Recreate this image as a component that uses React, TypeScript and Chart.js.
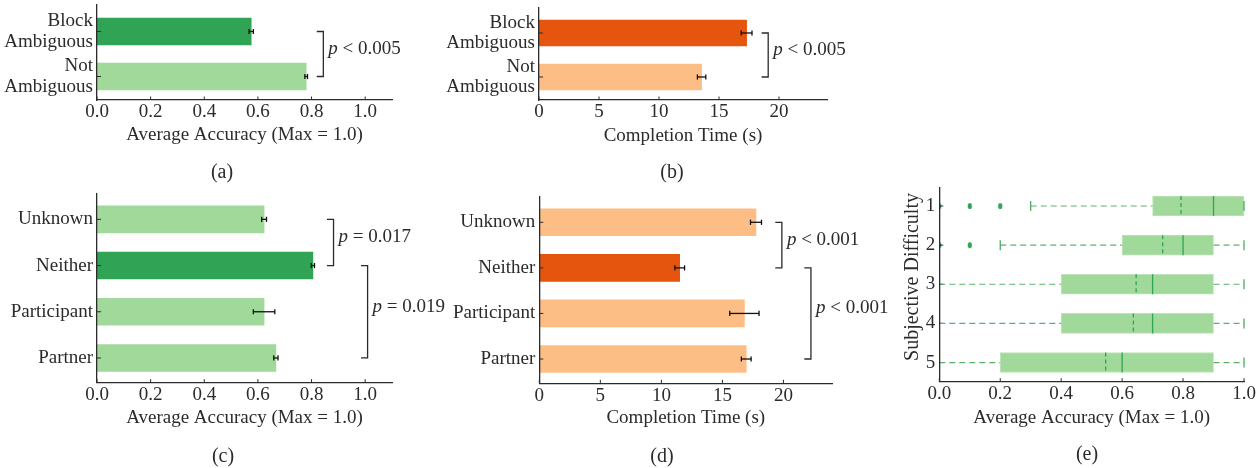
import React, { useEffect, useRef } from 'react';
import { Chart, registerables } from 'chart.js';

Chart.register(...registerables);

const W = 1259;
const H = 468;
const FONT_FAMILY = '"Liberation Serif", "Times New Roman", Times, serif';
const FONT_SIZE = 19;
const TEXT_COLOR = '#2b2b2b';
const AXIS_COLOR = '#2b2b2b';
const DARK_GREEN = '#31a354';
const LIGHT_GREEN = '#a1d99b';
const DARK_ORANGE = '#e6550d';
const LIGHT_ORANGE = '#fdbe85';
const WHISKER_GREEN = '#5cb46c';

// ---------------- data ----------------
const ambiguityLabels: string[][] = [['Block', 'Ambiguous'], ['Not', 'Ambiguous']];
const ambiguityHighlight = 0;
const ambiguityAccuracy = [0.575, 0.78];
const ambiguityAccuracyErr = [0.008, 0.005];
const ambiguityTime = [17.3, 13.55];
const ambiguityTimeErr = [0.45, 0.35];

const attributionLabels = ['Unknown', 'Neither', 'Participant', 'Partner'];
const attributionHighlight = 1;
const attributionAccuracy = [0.623, 0.805, 0.623, 0.667];
const attributionAccuracyErr = [0.009, 0.006, 0.04, 0.008];
const attributionTime = [17.75, 11.5, 16.8, 16.95];
const attributionTimeErr = [0.45, 0.4, 1.2, 0.4];

const difficultyLevels = ['1', '2', '3', '4', '5'];
const difficultyQ1 = [0.7, 0.6, 0.4, 0.4, 0.2];
const difficultyQ3 = [1.0, 0.9, 0.9, 0.9, 0.9];
const difficultyMedian = [0.9, 0.8, 0.7, 0.7, 0.6];
const difficultyMean = [0.793, 0.733, 0.646, 0.637, 0.546];
const difficultyWhiskerLow = [0.3, 0.2, 0.0, 0.0, 0.0];
const difficultyWhiskerHigh = [1.0, 1.0, 1.0, 1.0, 1.0];
const difficultyOutliers: number[][] = [[0.0, 0.1, 0.2], [0.0, 0.1], [], [], []];

const accuracyTicks = [0, 0.2, 0.4, 0.6, 0.8, 1.0];
const timeTicks = [0, 5, 10, 15, 20];

const accuracyTitle = 'Average Accuracy (Max = 1.0)';
const timeTitle = 'Completion Time (s)';

// ---------------- helpers ----------------
type Area = { l: number; t: number; r: number; b: number };
type Bracket = { from: number; to: number; x: number; text: string };
type Spec = {
  area: Area;
  xMin: number;
  xMax: number;
  xTicks: number[];
  xDecimals: number;
  yMin: number;
  yMax: number;
  yTicks: number[];
  yLabels: (string | string[])[];
  xTitle: string;
  xTitleY: number;
  yTitle?: string;
  yTitleX?: number;
  yTitleY?: number;
  caption: string;
  captionX: number;
  captionY: number;
  datasets: () => any[];
  decorate: (chart: any, ctx: CanvasRenderingContext2D) => void;
};

const XH = 40;

function font(style = '', size = FONT_SIZE) {
  return `${style} ${size}px ${FONT_FAMILY}`.trim();
}

function line(ctx: CanvasRenderingContext2D, x1: number, y1: number, x2: number, y2: number) {
  ctx.beginPath();
  ctx.moveTo(x1, y1);
  ctx.lineTo(x2, y2);
  ctx.stroke();
}

function ellipseMarker() {
  const c = document.createElement('canvas');
  c.width = 6;
  c.height = 8;
  const g = c.getContext('2d') as CanvasRenderingContext2D;
  g.fillStyle = DARK_GREEN;
  g.beginPath();
  g.ellipse(3, 4, 2.1, 3.1, 0, 0, Math.PI * 2);
  g.fill();
  return c;
}

function drawErrorBars(chart: any, ctx: CanvasRenderingContext2D, values: number[], errs: number[]) {
  const xs = chart.scales.x;
  const ys = chart.scales.y;
  ctx.save();
  ctx.strokeStyle = '#111111';
  ctx.lineWidth = 1.3;
  values.forEach((v, i) => {
    const py = ys.getPixelForValue(i);
    const x1 = xs.getPixelForValue(v - errs[i]);
    const x2 = xs.getPixelForValue(v + errs[i]);
    line(ctx, x1, py, x2, py);
    line(ctx, x1, py - 2.6, x1, py + 2.6);
    line(ctx, x2, py - 2.6, x2, py + 2.6);
  });
  ctx.restore();
}

function drawBrackets(chart: any, ctx: CanvasRenderingContext2D, brackets: Bracket[]) {
  const xs = chart.scales.x;
  const ys = chart.scales.y;
  ctx.save();
  ctx.strokeStyle = AXIS_COLOR;
  ctx.lineWidth = 1.3;
  ctx.fillStyle = TEXT_COLOR;
  ctx.textBaseline = 'middle';
  ctx.textAlign = 'left';
  brackets.forEach((b) => {
    const px = xs.getPixelForValue(b.x);
    const y1 = ys.getPixelForValue(b.from);
    const y2 = ys.getPixelForValue(b.to);
    ctx.beginPath();
    ctx.moveTo(px - 6.6, y1);
    ctx.lineTo(px, y1);
    ctx.lineTo(px, y2);
    ctx.lineTo(px - 6.6, y2);
    ctx.stroke();
    const ty = (y1 + y2) / 2 - 5;
    const tx = px + 5;
    ctx.font = font('italic');
    ctx.fillText('p', tx, ty);
    const w = ctx.measureText('p').width;
    ctx.font = font();
    ctx.fillText(b.text, tx + w, ty);
  });
  ctx.restore();
}

function buildChart(canvas: HTMLCanvasElement, spec: Spec) {
  const a = spec.area;
  const yw = a.l;
  const decor = {
    id: 'decor',
    afterDatasetsDraw(chart: any) {
      const ctx = chart.ctx as CanvasRenderingContext2D;
      const xs = chart.scales.x;
      const ys = chart.scales.y;
      ctx.save();
      // inward tick marks
      ctx.strokeStyle = AXIS_COLOR;
      ctx.lineWidth = 1;
      spec.xTicks.forEach((v) => {
        const px = xs.getPixelForValue(v);
        line(ctx, px, chart.chartArea.bottom, px, chart.chartArea.bottom - 3.5);
      });
      spec.yTicks.forEach((v) => {
        const py = ys.getPixelForValue(v);
        line(ctx, chart.chartArea.left, py, chart.chartArea.left + 4, py);
      });
      ctx.restore();
      spec.decorate(chart, ctx);
    },
    afterDraw(chart: any) {
      const ctx = chart.ctx as CanvasRenderingContext2D;
      const ca = chart.chartArea;
      ctx.save();
      ctx.fillStyle = TEXT_COLOR;
      ctx.textBaseline = 'middle';
      ctx.textAlign = 'center';
      ctx.font = font();
      ctx.fillText(spec.xTitle, (ca.left + ca.right) / 2, spec.xTitleY);
      if (spec.yTitle) {
        ctx.save();
        ctx.font = font('', 20);
        ctx.translate(spec.yTitleX as number, spec.yTitleY as number);
        ctx.rotate(-Math.PI / 2);
        ctx.fillText(spec.yTitle, 0, 0);
        ctx.restore();
      }
      ctx.font = font('', 20);
      ctx.fillText(spec.caption, spec.captionX, spec.captionY);
      ctx.restore();
    },
  };

  return new Chart(canvas, {
    type: 'bar',
    data: { datasets: spec.datasets() },
    options: {
      animation: false,
      responsive: false,
      maintainAspectRatio: false,
      devicePixelRatio: 1,
      events: [],
      layout: {
        padding: { left: a.l - yw, top: a.t, right: W - a.r, bottom: H - a.b - XH },
      },
      plugins: { legend: { display: false }, tooltip: { enabled: false } },
      scales: {
        x: {
          type: 'linear',
          position: 'bottom',
          offset: false,
          min: spec.xMin,
          max: spec.xMax,
          grid: { display: false, drawTicks: false, offset: false },
          border: { display: true, color: AXIS_COLOR, width: 1.3, z: 1 },
          ticks: {
            padding: 1,
            color: TEXT_COLOR,
            font: { size: FONT_SIZE, family: FONT_FAMILY },
            autoSkip: false,
            maxRotation: 0,
            callback: (v: any) => Number(v).toFixed(spec.xDecimals),
          },
          afterBuildTicks: (s: any) => {
            s.ticks = spec.xTicks.map((v) => ({ value: v }));
          },
          afterFit: (s: any) => {
            s.height = XH;
            s.paddingLeft = 0;
            s.paddingRight = 0;
          },
        },
        y: {
          type: 'linear',
          position: 'left',
          offset: false,
          reverse: true,
          min: spec.yMin,
          max: spec.yMax,
          grid: { display: false, drawTicks: false, offset: false },
          border: { display: true, color: AXIS_COLOR, width: 1.3, z: 1 },
          ticks: {
            padding: 4,
            color: TEXT_COLOR,
            font: { size: FONT_SIZE, family: FONT_FAMILY, lineHeight: 1.1 },
            autoSkip: false,
            callback: (v: any) => spec.yLabels[spec.yTicks.indexOf(Number(v))],
          },
          afterBuildTicks: (s: any) => {
            s.ticks = spec.yTicks.map((v) => ({ value: v }));
          },
          afterFit: (s: any) => {
            s.width = yw;
            s.paddingTop = 0;
            s.paddingBottom = 0;
          },
        },
      },
    } as any,
    plugins: [decor],
  });
}

function barDataset(values: number[], highlight: number, dark: string, light: string, thickness: number) {
  return {
    type: 'bar',
    indexAxis: 'y',
    data: values.map((v, i) => ({ x: v, y: i })),
    backgroundColor: values.map((_, i) => (i === highlight ? dark : light)),
    borderWidth: 0,
    barThickness: thickness,
  };
}

// ---------------- panel specs ----------------
const specA: Spec = {
  area: { l: 97, t: 5, r: 392, b: 100 },
  xMin: 0, xMax: 1.1, xTicks: accuracyTicks, xDecimals: 1,
  yMin: -0.589, yMax: 1.522, yTicks: [0, 1], yLabels: ambiguityLabels,
  xTitle: accuracyTitle, xTitleY: 135,
  caption: '(a)', captionX: 222, captionY: 173,
  datasets: () => [barDataset(ambiguityAccuracy, ambiguityHighlight, DARK_GREEN, LIGHT_GREEN, 27)],
  decorate: (chart, ctx) => {
    drawErrorBars(chart, ctx, ambiguityAccuracy, ambiguityAccuracyErr);
    drawBrackets(chart, ctx, [{ from: 0, to: 1, x: 0.844, text: ' < 0.005' }]);
  },
};

const specB: Spec = {
  area: { l: 539, t: 8, r: 827, b: 100 },
  xMin: 0, xMax: 24, xTicks: timeTicks, xDecimals: 0,
  yMin: -0.568, yMax: 1.523, yTicks: [0, 1], yLabels: ambiguityLabels,
  xTitle: timeTitle, xTitleY: 136,
  caption: '(b)', captionX: 672, captionY: 173,
  datasets: () => [barDataset(ambiguityTime, ambiguityHighlight, DARK_ORANGE, LIGHT_ORANGE, 26)],
  decorate: (chart, ctx) => {
    drawErrorBars(chart, ctx, ambiguityTime, ambiguityTimeErr);
    drawBrackets(chart, ctx, [{ from: 0, to: 1, x: 19.1, text: ' < 0.005' }]);
  },
};

const specC: Spec = {
  area: { l: 97, t: 194, r: 392, b: 382.7 },
  xMin: 0, xMax: 1.1, xTicks: accuracyTicks, xDecimals: 1,
  yMin: -0.548, yMax: 3.535, yTicks: [0, 1, 2, 3], yLabels: attributionLabels,
  xTitle: accuracyTitle, xTitleY: 418,
  caption: '(c)', captionX: 223, captionY: 457,
  datasets: () => [barDataset(attributionAccuracy, attributionHighlight, DARK_GREEN, LIGHT_GREEN, 27)],
  decorate: (chart, ctx) => {
    drawErrorBars(chart, ctx, attributionAccuracy, attributionAccuracyErr);
    drawBrackets(chart, ctx, [
      { from: 0, to: 1, x: 0.882, text: ' = 0.017' },
      { from: 1, to: 3, x: 1.009, text: ' = 0.019' },
    ]);
  },
};

const specD: Spec = {
  area: { l: 539.3, t: 197, r: 832.3, b: 383.3 },
  xMin: 0, xMax: 24, xTicks: timeTicks, xDecimals: 0,
  yMin: -0.555, yMax: 3.533, yTicks: [0, 1, 2, 3], yLabels: attributionLabels,
  xTitle: timeTitle, xTitleY: 418,
  caption: '(d)', captionX: 662, captionY: 457,
  datasets: () => [barDataset(attributionTime, attributionHighlight, DARK_ORANGE, LIGHT_ORANGE, 27)],
  decorate: (chart, ctx) => {
    drawErrorBars(chart, ctx, attributionTime, attributionTimeErr);
    drawBrackets(chart, ctx, [
      { from: 0, to: 1, x: 19.87, text: ' < 0.001' },
      { from: 1, to: 3, x: 22.25, text: ' < 0.001' },
    ]);
  },
};

const outlierPoints: { x: number; y: number }[] = [];
difficultyOutliers.forEach((list, i) => list.forEach((v) => outlierPoints.push({ x: v, y: i + 1 })));

const specE: Spec = {
  area: { l: 939.3, t: 187.3, r: 1244, b: 381.7 },
  xMin: 0, xMax: 1, xTicks: accuracyTicks, xDecimals: 1,
  yMin: 0.522, yMax: 5.49, yTicks: [1, 2, 3, 4, 5], yLabels: difficultyLevels,
  xTitle: accuracyTitle, xTitleY: 418,
  yTitle: 'Subjective Difficulty', yTitleX: 912.7, yTitleY: 277,
  caption: '(e)', captionX: 1087, captionY: 455,
  datasets: () => [
    {
      type: 'bar',
      indexAxis: 'y',
      data: difficultyQ1.map((q1, i) => ({ x: [q1, difficultyQ3[i]], y: i + 1 })),
      backgroundColor: LIGHT_GREEN,
      borderColor: '#bfe3b9',
      borderWidth: 1,
      borderSkipped: false,
      barThickness: 20,
    },
    {
      type: 'scatter',
      data: outlierPoints,
      pointStyle: ellipseMarker(),
      pointRadius: 3,
      clip: { left: 0, top: false, right: false, bottom: false },
    },
  ],
  decorate: (chart, ctx) => {
    const xs = chart.scales.x;
    const ys = chart.scales.y;
    const ca = chart.chartArea;
    ctx.save();
    ctx.beginPath();
    ctx.rect(ca.left, ca.top - 2, ca.right - ca.left + 4, ca.bottom - ca.top + 4);
    ctx.clip();
    difficultyLevels.forEach((_, i) => {
      const py = ys.getPixelForValue(i + 1);
      const lo = xs.getPixelForValue(difficultyWhiskerLow[i]);
      const q1 = xs.getPixelForValue(difficultyQ1[i]);
      const q3 = xs.getPixelForValue(difficultyQ3[i]);
      const hi = xs.getPixelForValue(difficultyWhiskerHigh[i]);
      // whiskers
      ctx.strokeStyle = WHISKER_GREEN;
      ctx.lineWidth = 1.2;
      ctx.setLineDash([6, 4]);
      if (q1 > lo) line(ctx, lo, py, q1, py);
      if (hi > q3) line(ctx, q3, py, hi, py);
      ctx.setLineDash([]);
      // caps
      ctx.strokeStyle = '#3fa556';
      line(ctx, lo, py - 5, lo, py + 5);
      line(ctx, hi, py - 5, hi, py + 5);
      // median
      const med = xs.getPixelForValue(difficultyMedian[i]);
      ctx.strokeStyle = DARK_GREEN;
      ctx.lineWidth = 1.3;
      line(ctx, med, py - 10, med, py + 10);
      // mean
      const mean = xs.getPixelForValue(difficultyMean[i]);
      ctx.setLineDash([4, 3]);
      line(ctx, mean, py - 10, mean, py + 10);
      ctx.setLineDash([]);
    });
    ctx.restore();
  },
};

const specs = [specA, specB, specC, specD, specE];

function Panel({ spec }: { spec: Spec }) {
  const ref = useRef<HTMLCanvasElement>(null);
  useEffect(() => {
    const chart = buildChart(ref.current as HTMLCanvasElement, spec);
    return () => chart.destroy();
  }, [spec]);
  return (
    <canvas
      ref={ref}
      width={W}
      height={H}
      style={{ position: 'absolute', left: 0, top: 0, width: W, height: H }}
    />
  );
}

export default function App() {
  Chart.defaults.font.family = FONT_FAMILY;
  Chart.defaults.font.size = FONT_SIZE;
  Chart.defaults.color = TEXT_COLOR;
  return (
    <div style={{ position: 'absolute', left: 0, top: 0, width: W, height: H, background: '#ffffff' }}>
      {specs.map((s, i) => (
        <Panel key={i} spec={s} />
      ))}
    </div>
  );
}
